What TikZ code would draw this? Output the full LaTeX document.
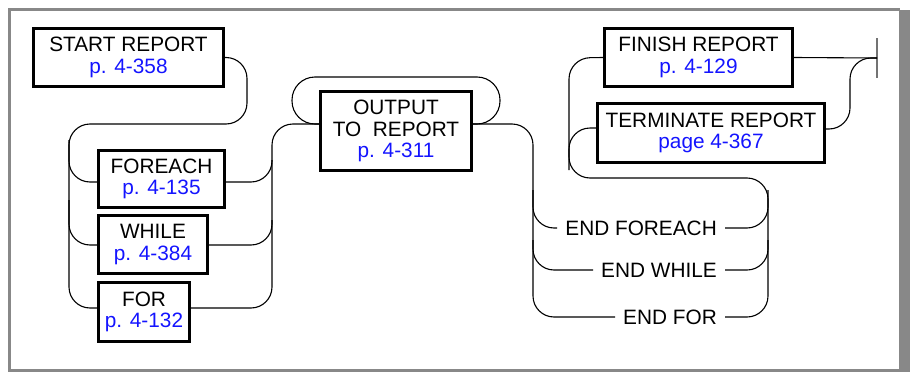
\documentclass[tikz,border=0pt]{standalone}
\usepackage{fontspec}
\setmainfont{Liberation Sans}
\definecolor{linkblue}{RGB}{20,20,255}
\definecolor{framegray}{RGB}{136,136,136}
\newcommand\bluetext[1]{\textcolor{linkblue}{#1}}
\begin{document}
\begin{tikzpicture}[x=1pt,y=-1pt,
  box/.style={draw, line width=2.8pt, align=center, inner sep=0pt,
    font=\fontsize{20.8}{21.5}\selectfont},
  endtext/.style={inner xsep=8pt, inner ysep=0pt, anchor=east,
    font=\fontsize{20.8}{21.5}\selectfont},
  conn/.style={line width=1.1pt, rounded corners=21pt},
  loopconn/.style={line width=1.1pt, rounded corners=23pt},
  barline/.style={line width=2pt, draw=black!55}]
\useasboundingbox (0,0) rectangle (910,372);
% frame
\fill[framegray] (8,7.5) rectangle (900,10.5);
\fill[framegray] (8,7.5) rectangle (11,372);
\fill[framegray] (8,369) rectangle (910,372);
\fill[framegray] (899,10) rectangle (910,372);

% boxes
\node[box, minimum width=190.2pt, minimum height=58.2pt] (start) at (128.5,57.5)
  {START REPORT\\\bluetext{p. 4-358}};
\node[box, minimum width=126.2pt, minimum height=57.2pt] (foreach) at (161.5,179)
  {FOREACH\\\bluetext{p. 4-135}};
\node[box, minimum width=109.2pt, minimum height=58.2pt] (while) at (153,244.5)
  {WHILE\\\bluetext{p. 4-384}};
\node[box, minimum width=91.2pt, minimum height=59.2pt] (for) at (144,312)
  {FOR\\\bluetext{p. 4-132}};
\node[box, minimum width=151.2pt, minimum height=79.2pt] (output) at (396,131)
  {OUTPUT\\TO~~REPORT\\\bluetext{p. 4-311}};
\node[box, minimum width=188.2pt, minimum height=58.2pt] (finish) at (698.5,57.5)
  {FINISH REPORT\\\bluetext{p. 4-129}};
\node[box, minimum width=227.2pt, minimum height=59.2pt] (terminate) at (711,133)
  {TERMINATE REPORT\\\bluetext{page 4-367}};

\node[endtext] (endfe) at (725,228) {END FOREACH};
\node[endtext] (endwh) at (725,270) {END WHILE};
\node[endtext] (endfor) at (725,317) {END FOR};

\coordinate (endbar) at (877,58);
\draw[barline] ([yshift=20pt]endbar) -- ([yshift=-20pt]endbar);

% start -> left rail -> FOR
\draw[conn] (start.east) -| (247,124) -| (69,308) -- (for.west |- 0,308);
\draw[conn] (69,140) |- (foreach.west |- 0,182);
\draw[conn] (69,200) |- (while.west |- 0,245);
% right rail -> output
\draw[conn] (for.east |- 0,308) -| (272,124) -- (output.west |- 0,124);
\draw[conn] (foreach.east |- 0,182) -| (272,160);
\draw[conn] (while.east |- 0,245) -| (272,220);
% repeat loop around output
\draw[loopconn] (output.east |- 0,124) -- (500,124) -- (500,77) -- (292,77) -- (292,124) -- (output.west |- 0,124);
% output -> END rails
\draw[conn] (output.east |- 0,124) -| (533,317) -- (endfor.west);
\draw[conn] (533,190) |- (endfe.west);
\draw[conn] (533,240) |- (endwh.west);
% END -> finish / terminate
\draw[conn] (endfor.east) -| (768,178) -| (569,58) -- (finish.west);
\draw[conn] (endfe.east) -| (768,190);
\draw[conn] (endwh.east) -| (768,240);
\draw[conn] (569,170) |- (terminate.west |- 0,128);
% exits
\draw[conn] (finish.east) -- (endbar);
\draw[conn] (terminate.east |- 0,129) -| (850,58) -- (endbar);
\end{tikzpicture}
\end{document}
